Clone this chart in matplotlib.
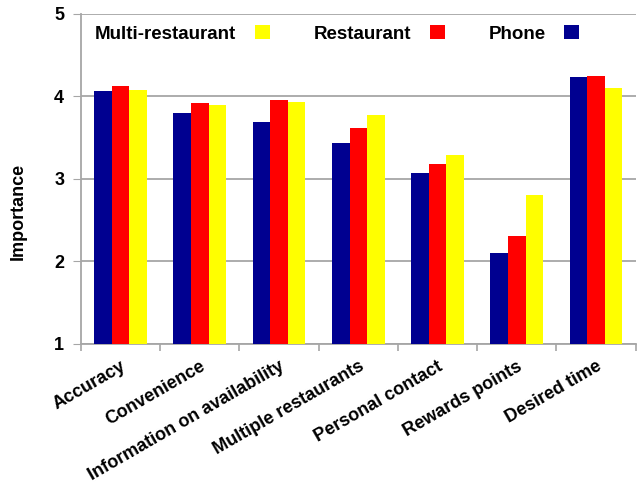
import numpy as np
import matplotlib
matplotlib.use("Agg")
import matplotlib.pyplot as plt

# Importance of ordering features by channel
categories = ['Accuracy', 'Convenience', 'Information on availability',
              'Multiple restaurants', 'Personal contact', 'Rewards points',
              'Desired time']
phone = [4.06, 3.80, 3.69, 3.43, 3.07, 2.10, 4.23]
restaurant = [4.13, 3.92, 3.95, 3.62, 3.18, 2.31, 4.25]
multi = [4.08, 3.90, 3.93, 3.77, 3.29, 2.80, 4.10]

plt.rcParams['font.family'] = 'Liberation Sans'
plt.rcParams['font.weight'] = 'bold'

fig = plt.figure(figsize=(6.37, 4.92), dpi=100)
ax = fig.add_axes([0.127, 0.301, 0.871, 0.671])

x = np.arange(len(categories))
w = 0.222
b1 = ax.bar(x - w, np.array(phone) - 1, w, bottom=1, color='#000090', zorder=3)
b2 = ax.bar(x, np.array(restaurant) - 1, w, bottom=1, color='#ff0000', zorder=3)
b3 = ax.bar(x + w, np.array(multi) - 1, w, bottom=1, color='#ffff00', zorder=3)

ax.set_ylim(1, 5)
ax.set_xlim(-0.5, len(categories) - 0.5)
ax.set_yticks([1, 2, 3, 4, 5])
ax.tick_params(axis='y', labelsize=13, length=6, color='#a6a6a6', pad=6)
ax.yaxis.grid(True, color='#a6a6a6', linewidth=1.3, zorder=0)
ax.set_axisbelow(True)

ax.set_xticks(np.arange(len(categories) + 1) - 0.5)
ax.set_xticklabels([])
ax.tick_params(axis='x', length=5, color='#a6a6a6', width=1.2)
ax.set_xticks(x, minor=True)
ax.set_xticklabels(categories, minor=True, rotation=30, ha='right',
                   rotation_mode='anchor', fontsize=13)
ax.tick_params(axis='x', which='minor', length=0, pad=10)

for s in ['top', 'right']:
    ax.spines[s].set_visible(False)
for s in ['left', 'bottom']:
    ax.spines[s].set_color('#a6a6a6')
    ax.spines[s].set_linewidth(1.3)

fig.text(18 / 637, 1 - 211 / 492, 'Importance', rotation=90, fontsize=13,
         fontweight='bold', ha='center', va='center')

ax.legend([b3, b2, b1], ['Multi-restaurant', 'Restaurant', 'Phone'],
          ncol=3, frameon=False, markerfirst=False, loc='upper left',
          bbox_to_anchor=(95 / 637, 1 - 25 / 492),
          bbox_transform=fig.transFigure, borderpad=0, borderaxespad=0,
          fontsize=13.5, handlelength=0.8, handleheight=0.8,
          columnspacing=2.35, handletextpad=0.98)

fig.savefig('out.png', dpi=100)
